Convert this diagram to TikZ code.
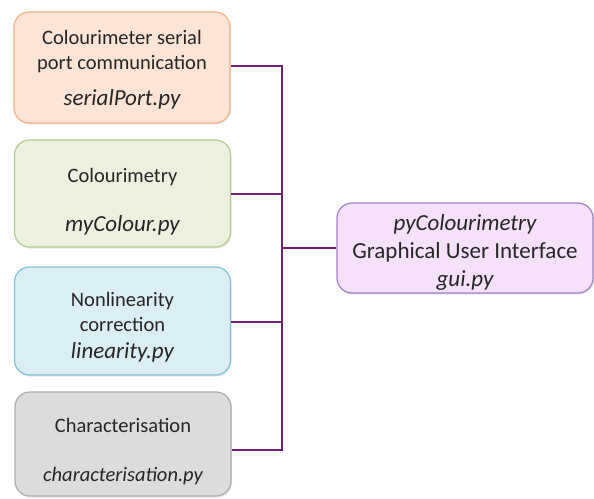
\documentclass[tikz,border=0pt]{standalone}
\usepackage{fontspec}
\setmainfont{Carlito}
\usepackage{tikz}
\usetikzlibrary{calc,shadows}
\definecolor{peachfill}{HTML}{FCE4D6}
\definecolor{peachline}{HTML}{F4B183}
\definecolor{greenfill}{HTML}{EBF1DE}
\definecolor{greenline}{HTML}{B4CC8E}
\definecolor{bluefill}{HTML}{DAEEF3}
\definecolor{blueline}{HTML}{7FC4D6}
\definecolor{greyfill}{HTML}{DCDCDC}
\definecolor{greyline}{HTML}{ABABAB}
\definecolor{lilacfill}{HTML}{F5E1FA}
\definecolor{lilacline}{HTML}{9C80C8}
\definecolor{linkcol}{HTML}{6E1E6E}
\newcommand{\pyname}[2][23]{{\itshape\fontsize{#1}{25}\selectfont #2}}
\begin{document}
\begin{tikzpicture}[x=1pt,y=1pt,
  modbox/.style={draw,line width=1.2pt,rounded corners=15pt,
    minimum width=216pt,
    drop shadow={opacity=0.2,shadow xshift=1pt,shadow yshift=-1.5pt}},
  modtext/.style={align=center,text=black!85,inner sep=0pt,
    font=\fontsize{20.5}{25}\selectfont},
  link/.style={draw=linkcol,line width=2.8pt}]
\useasboundingbox (0,0) rectangle (594,-498);
\node[modbox,fill=peachfill,draw=peachline,minimum height=111pt] (serial) at (122,-67.5) {};
\node[modtext] (serial-txt) at ([yshift=-2pt]serial.center)
  {Colourimeter serial\\port communication\\[11pt]\pyname{serialPort.py}};
\node[modbox,fill=greenfill,draw=greenline,minimum height=107pt] (colour) at (122.5,-193.5) {};
\node[modtext] (colour-txt) at ([yshift=-8pt]colour.center)
  {Colourimetry\\[24pt]\pyname{myColour.py}};
\node[modbox,fill=bluefill,draw=blueline,minimum height=108pt] (linear) at (122.5,-321) {};
\node[modtext] (linear-txt) at ([yshift=-6pt]linear.center)
  {Nonlinearity\\correction\\[2pt]\pyname{linearity.py}};
\node[modbox,fill=greyfill,draw=greyline,minimum height=104pt] (charac) at (123,-444) {};
\node[modtext] (charac-txt) at ([yshift=-8pt]charac.center)
  {Characterisation\\[24pt]\pyname[20.5]{characterisation.py}};
\node[modbox,fill=lilacfill,draw=lilacline,minimum width=256pt,minimum height=90pt] (gui) at (465,-248) {};
\node[modtext,font=\fontsize{23}{28}\selectfont] (gui-txt) at ([yshift=-4pt]gui.center)
  {{\itshape pyColourimetry}\\Graphical User Interface\\{\itshape gui.py}};
\coordinate (trunk) at (282,-248);
\draw[link] ([yshift=1.5pt]serial.east) -| (trunk);
\draw[link] ([yshift=-0.5pt]colour.east) -| (trunk);
\draw[link] ([yshift=-1pt]linear.east) -| (trunk);
\draw[link] ([yshift=-6pt]charac.east) -| (trunk);
\draw[link] (trunk) -- (gui.west);
\end{tikzpicture}
\end{document}
